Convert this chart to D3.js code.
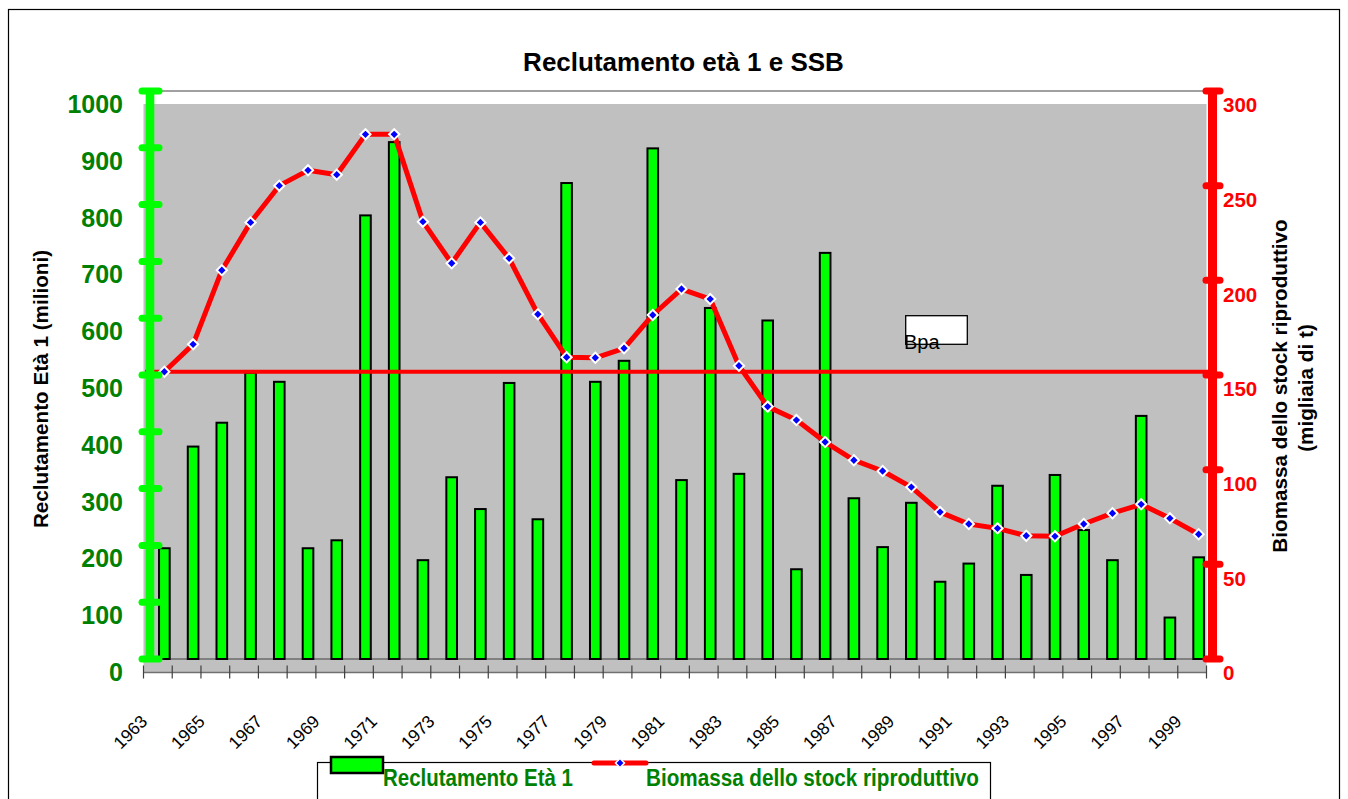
<!DOCTYPE html>
<html>
<head>
<meta charset="utf-8">
<script src="https://cdn.jsdelivr.net/npm/d3@7"></script>
<style>
  html, body { margin: 0; padding: 0; background: #ffffff; }
  svg { display: block; }
  text { font-family: "Liberation Sans", Arial, sans-serif; }
</style>
</head>
<body>
<svg id="chart" width="1348" height="799"></svg>
<script>
// ---------------- data ----------------
const years = [1963,1964,1965,1966,1967,1968,1969,1970,1971,1972,1973,1974,1975,1976,1977,1978,1979,1980,1981,1982,1983,1984,1985,1986,1987,1988,1989,1990,1991,1992,1993,1994,1995,1996,1997,1998,1999];
const recruitment = [195,374,416,504,488,195,209,781,910,174,320,264,486,246,838,488,525,899,315,618,326,596,158,715,283,197,275,136,168,305,148,324,227,174,428,73,179];
const ssb = [151.7,166.2,205.3,230.6,250.0,258.1,255.8,277.1,277.1,231.0,209.0,230.6,211.6,182.1,159.4,159.1,164.1,181.7,195.4,190.1,154.9,133.3,126.2,114.6,105.0,99.3,90.8,77.6,71.3,69.0,65.1,64.8,71.3,77.0,81.7,74.3,65.9];
const bpa = 151.7;
const leftTicks = [0,100,200,300,400,500,600,700,800,900,1000];
const rightTicks = [0,50,100,150,200,250,300];
const xLabels = [1963,1965,1967,1969,1971,1973,1975,1977,1979,1981,1983,1985,1987,1989,1991,1993,1995,1997,1999];
const title = "Reclutamento età 1 e SSB";
const leftTitle = "Reclutamento Età 1 (milioni)";
const rightTitle = ["Biomassa dello stock riproduttivo", "(migliaia di t)"];
const legendLabels = ["Reclutamento Età 1", "Biomassa dello stock riproduttivo"];
const bpaLabel = "Bpa";

// ---------------- scales ----------------
const svg = d3.select("#chart");
const pad = 0.63;
const x = d3.scaleBand().domain(years).range([150, 1213]).paddingInner(pad).paddingOuter(pad / 2);
const xAxisScale = d3.scaleBand().domain(years).range([143.5, 1206.5]).padding(0);
const yL = d3.scaleLinear().domain([0, 1000]).range([659, 91]);
const yR = d3.scaleLinear().domain([0, 300]).range([659, 91]);

const GREEN = "#00ff00", DKGREEN = "#008000", RED = "#ff0000";
const FONT = "'Liberation Sans', Arial, sans-serif";

// outer chart frame
svg.append("rect").attr("x", 8.5).attr("y", 9.5).attr("width", 1331).attr("height", 900)
  .attr("fill", "none").attr("stroke", "#000").attr("stroke-width", 1.2);

// plot area (gray)
svg.append("rect").attr("x", 143.5).attr("y", 104).attr("width", 1063).attr("height", 568.5)
  .attr("fill", "#c0c0c0");

// top border line of plot area
svg.append("line").attr("x1", 150).attr("x2", 1212).attr("y1", yL(1000)).attr("y2", yL(1000))
  .attr("stroke", "#808080").attr("stroke-width", 1.5);

// baseline
svg.append("line").attr("x1", 150).attr("x2", 1207).attr("y1", yL(0)).attr("y2", yL(0))
  .attr("stroke", "#808080").attr("stroke-width", 2);

// x axis
const xAxisG = svg.append("g").attr("transform", "translate(0,672.5)");
xAxisG.append("line").attr("x1", xAxisScale.range()[0]).attr("x2", xAxisScale.range()[1])
  .attr("stroke", "#707070").attr("stroke-width", 1.5);
const tickXs = years.map(d => xAxisScale(d)).concat([xAxisScale.range()[1]]);
xAxisG.selectAll("line.tk").data(tickXs).join("line").attr("class", "tk")
  .attr("x1", d => d).attr("x2", d => d).attr("y1", -7).attr("y2", 6)
  .attr("stroke", "#404040").attr("stroke-width", 1.2);

svg.append("g").selectAll("text").data(xLabels).join("text")
  .attr("transform", d => "translate(" + (xAxisScale(d) + xAxisScale.bandwidth() / 2 - 9.5) + ",722.5) rotate(-45)")
  .attr("text-anchor", "end")
  .style("font-size", "17.5px")
  .style("font-family", FONT)
  .attr("fill", "#000")
  .text(d => String(d));

// bars
svg.append("g").selectAll("rect").data(years).join("rect")
  .attr("x", (d) => x(d)).attr("width", x.bandwidth())
  .attr("y", (d, i) => yL(recruitment[i])).attr("height", (d, i) => yL(0) - yL(recruitment[i]))
  .attr("fill", GREEN).attr("stroke", "#000").attr("stroke-width", 2);

// Bpa line
svg.append("line").attr("x1", 145).attr("x2", 1209).attr("y1", yR(bpa)).attr("y2", yR(bpa))
  .attr("stroke", RED).attr("stroke-width", 4);

// Bpa label box
svg.append("rect").attr("x", 905.7).attr("y", 315.7).attr("width", 61.6).attr("height", 28.6)
  .attr("fill", "#fff").attr("stroke", "#000").attr("stroke-width", 1.3);
svg.append("text").attr("x", 904).attr("y", 348.5).attr("font-size", 20).attr("fill", "#000").text(bpaLabel);

// SSB line
const line = d3.line().x((d, i) => x(years[i]) + x.bandwidth() / 2).y(d => yR(d));
svg.append("path").datum(ssb).attr("d", line).attr("fill", "none")
  .attr("stroke", RED).attr("stroke-width", 5).attr("stroke-linejoin", "round");
svg.append("g").selectAll("path").data(ssb).join("path")
  .attr("transform", (d, i) => "translate(" + (x(years[i]) + x.bandwidth() / 2) + "," + yR(d) + ") rotate(45)")
  .attr("d", d3.symbol().type(d3.symbolSquare).size(52))
  .attr("fill", "#0000ff").attr("stroke", "#fff").attr("stroke-width", 2);

// left axis (green)
const lAxis = svg.append("g").attr("transform", "translate(150,0)")
  .call(d3.axisLeft(yL).tickValues(leftTicks).tickFormat(d3.format("d")).tickSize(0).tickPadding(27));
lAxis.select(".domain").remove();
lAxis.selectAll(".tick text").attr("dy", null).attr("y", 21.5).attr("x", -27)
  .attr("fill", DKGREEN).attr("font-size", 25).attr("font-weight", "bold")
  .attr("font-family", FONT);
svg.append("line").attr("x1", 150).attr("x2", 150).attr("y1", yL(0)).attr("y2", yL(1000))
  .attr("stroke", GREEN).attr("stroke-width", 8.6);
svg.append("g").selectAll("line").data(leftTicks).join("line")
  .attr("x1", 142).attr("x2", 159).attr("y1", d => yL(d)).attr("y2", d => yL(d))
  .attr("stroke", GREEN).attr("stroke-width", 7).attr("stroke-linecap", "round");

// right axis (red)
const rAxis = svg.append("g").attr("transform", "translate(1212.5,0)")
  .call(d3.axisRight(yR).tickValues(rightTicks).tickFormat(d3.format("d")).tickSize(0).tickPadding(10.5));
rAxis.select(".domain").remove();
rAxis.selectAll(".tick text").attr("dy", null).attr("y", 20.7).attr("x", 10.5)
  .attr("fill", RED).attr("font-size", 20.5).attr("font-weight", "bold")
  .attr("font-family", FONT);
svg.append("line").attr("x1", 1212.5).attr("x2", 1212.5).attr("y1", yR(0)).attr("y2", yR(300))
  .attr("stroke", RED).attr("stroke-width", 9);
svg.append("g").selectAll("line").data(rightTicks).join("line")
  .attr("x1", 1206).attr("x2", 1220).attr("y1", d => yR(d)).attr("y2", d => yR(d))
  .attr("stroke", RED).attr("stroke-width", 7).attr("stroke-linecap", "round");

// titles
svg.append("text").attr("x", 683.5).attr("y", 71).attr("text-anchor", "middle")
  .attr("font-size", 26).attr("font-weight", "bold").attr("fill", "#000").text(title);
svg.append("text").attr("transform", "translate(48,389) rotate(-90)").attr("text-anchor", "middle")
  .attr("font-size", 20.7).attr("font-weight", "bold").attr("fill", "#000").text(leftTitle);
svg.append("text").attr("transform", "translate(1286.5,386) rotate(-90)").attr("text-anchor", "middle")
  .attr("font-size", 20.7).attr("font-weight", "bold").attr("fill", "#000").text(rightTitle[0]);
svg.append("text").attr("transform", "translate(1313,388) rotate(-90)").attr("text-anchor", "middle")
  .attr("font-size", 20.7).attr("font-weight", "bold").attr("fill", "#000").text(rightTitle[1]);

// legend
const lg = svg.append("g");
lg.append("rect").attr("x", 317.5).attr("y", 762.5).attr("width", 673).attr("height", 60)
  .attr("fill", "#fff").attr("stroke", "#000").attr("stroke-width", 1.2);
lg.append("rect").attr("x", 331).attr("y", 757).attr("width", 52).attr("height", 16)
  .attr("fill", GREEN).attr("stroke", "#000").attr("stroke-width", 2.5);
lg.append("text").attr("x", 383).attr("y", 786).attr("font-size", 23).attr("font-weight", "bold")
  .attr("fill", DKGREEN).attr("textLength", 190).attr("lengthAdjust", "spacingAndGlyphs").text(legendLabels[0]);
lg.append("line").attr("x1", 594).attr("x2", 646).attr("y1", 763).attr("y2", 763)
  .attr("stroke", RED).attr("stroke-width", 5).attr("stroke-linecap", "round");
lg.append("path").attr("transform", "translate(620,763) rotate(45)")
  .attr("d", d3.symbol().type(d3.symbolSquare).size(40))
  .attr("fill", "#0000ff").attr("stroke", "#fff").attr("stroke-width", 1.5);
lg.append("text").attr("x", 646).attr("y", 786).attr("font-size", 23).attr("font-weight", "bold")
  .attr("fill", DKGREEN).attr("textLength", 333).attr("lengthAdjust", "spacingAndGlyphs").text(legendLabels[1]);
</script>
</body>
</html>
